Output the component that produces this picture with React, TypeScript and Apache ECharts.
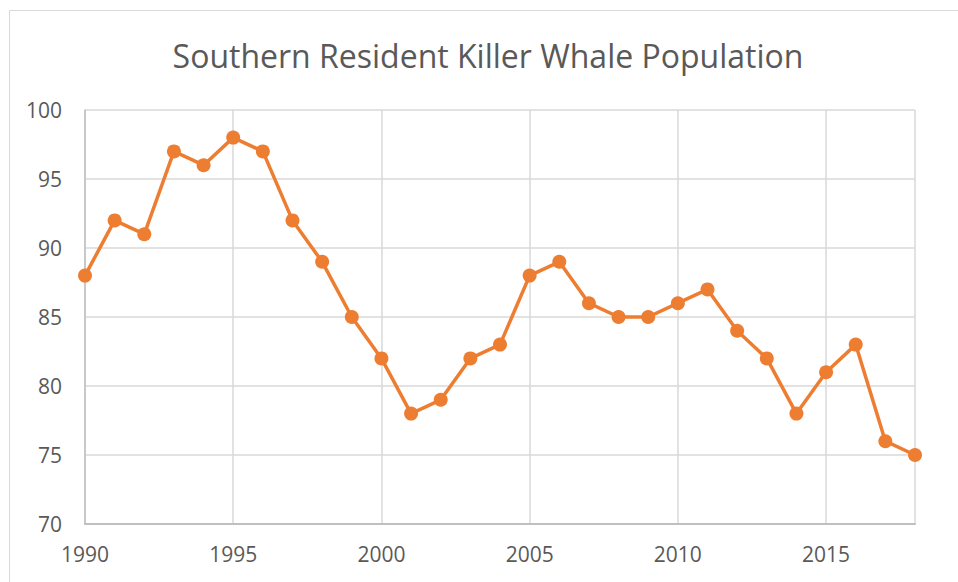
import React, { useEffect, useRef } from "react";
import * as echarts from "echarts";

const years = [1990, 1991, 1992, 1993, 1994, 1995, 1996, 1997, 1998, 1999, 2000, 2001, 2002, 2003, 2004, 2005, 2006, 2007, 2008, 2009, 2010, 2011, 2012, 2013, 2014, 2015, 2016, 2017, 2018];
const population = [88, 92, 91, 97, 96, 98, 97, 92, 89, 85, 82, 78, 79, 82, 83, 88, 89, 86, 85, 85, 86, 87, 84, 82, 78, 81, 83, 76, 75];
const titleText = "Southern Resident Killer Whale Population";

export default function App() {
  const ref = useRef<HTMLDivElement>(null);
  useEffect(() => {
    document.body.style.margin = "0";
    const chart = echarts.init(ref.current!, null, { renderer: "svg" });
    const font = "'Open Sans', 'Noto Sans', sans-serif";
    chart.setOption({
      animation: false,
      backgroundColor: "#ffffff",
      graphic: [
        {
          type: "rect",
          shape: { x: 9.5, y: 10.5, width: 960, height: 580 },
          style: { fill: "none", stroke: "#d9d9d9", lineWidth: 1 },
          silent: true,
        },
        {
          type: "text",
          x: 488,
          y: 55,
          style: {
            text: titleText,
            fill: "#595959",
            font: `32px ${font}`,
            textAlign: "center",
            textVerticalAlign: "middle",
          },
        },
      ],
      grid: { left: 85, right: 43, top: 110, bottom: 58, containLabel: false },
      xAxis: {
        type: "value",
        min: 1990,
        max: 2018,
        interval: 5,
        axisLine: { show: true, lineStyle: { color: "#bfbfbf", width: 2 } },
        axisTick: { show: false },
        splitLine: { show: true, lineStyle: { color: "#d9d9d9", width: 1.5 } },
        axisLabel: {
          color: "#595959",
          fontSize: 21,
          fontFamily: font,
          margin: 19,
          showMaxLabel: false,
          formatter: (v: number) => String(v),
        },
      },
      yAxis: {
        type: "value",
        min: 70,
        max: 100,
        interval: 5,
        axisLine: { show: true, lineStyle: { color: "#bfbfbf", width: 1.5 } },
        axisTick: { show: false },
        splitLine: { show: true, lineStyle: { color: "#d9d9d9", width: 1.5 } },
        axisLabel: { color: "#595959", fontSize: 21, fontFamily: font, margin: 23 },
      },
      series: [
        {
          type: "line",
          data: years.map((y, i) => [y, population[i]]),
          symbol: "circle",
          symbolSize: 14,
          lineStyle: { color: "#ED7D31", width: 3.5 },
          itemStyle: { color: "#ED7D31" },
        },
      ],
    });
    return () => chart.dispose();
  }, []);
  return <div ref={ref} style={{ width: 958, height: 582 }} />;
}
